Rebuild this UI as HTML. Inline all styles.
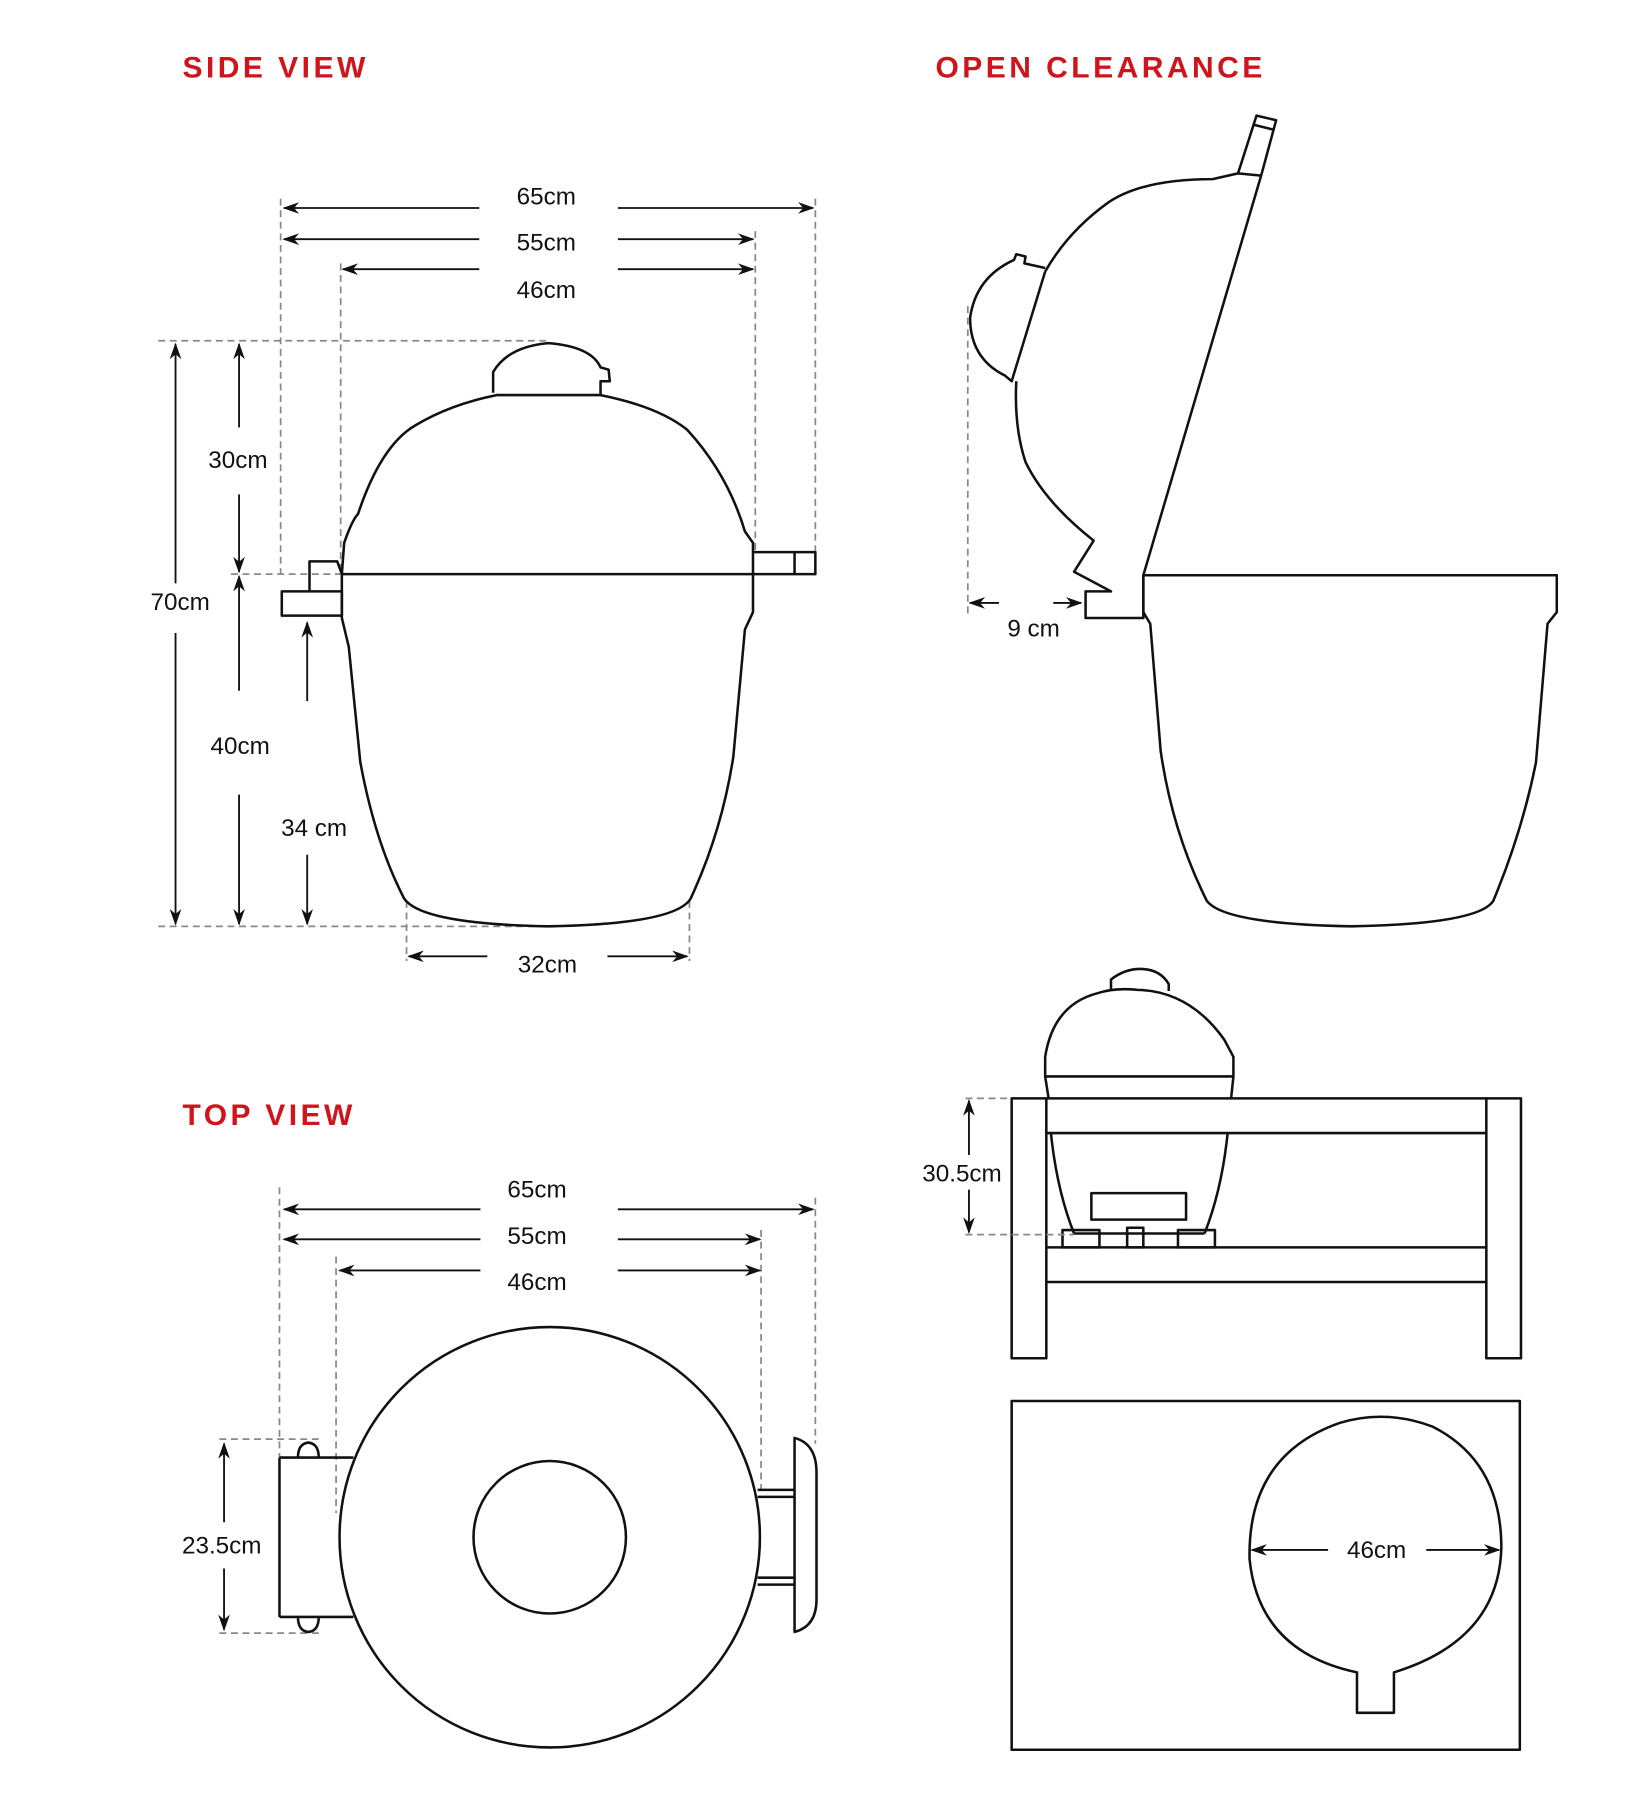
<!DOCTYPE html>
<html><head><meta charset="utf-8"><style>html,body{margin:0;padding:0;background:#fff}svg{display:block}</style></head><body>
<svg width="1633" height="1818" viewBox="0 0 1414 1574" xmlns="http://www.w3.org/2000/svg">
<defs>
<marker id="a" viewBox="0 0 10 10" refX="9" refY="5" markerWidth="9" markerHeight="9" orient="auto"><path d="M0,1.5 L10,5 L0,8.5 L3,5 z" fill="#111"/></marker>
</defs>
<style>
.t{font-family:"Liberation Sans",sans-serif;font-weight:bold;fill:#d0141c;font-size:26px;letter-spacing:3px}
.l{font-family:"Liberation Sans",sans-serif;font-size:21px;fill:#111;text-anchor:middle}
.s{fill:none;stroke:#111;stroke-width:2.2;stroke-linejoin:round}
.d{fill:none;stroke:#888;stroke-width:1.5;stroke-dasharray:6,4}
.r path{stroke:#111;stroke-width:1.6;fill:none;marker-end:url(#a)}
</style>
<text class="t" x="158" y="67">SIDE VIEW</text>
<text class="t" x="810" y="67">OPEN CLEARANCE</text>
<text class="t" x="158" y="974">TOP VIEW</text>

<!-- SIDE VIEW dims -->
<g class="d">
<path d="M243 172V497M295 228V497M654 200V478M706 172V478"/>
<path d="M137 295H475M200 497H296M137 802H475"/>
<path d="M352 780V832M597 780V832"/>
</g>
<g class="r">
<path d="M415 180H246"/><path d="M535 180H704"/>
<path d="M415 207H246"/><path d="M535 207H652"/>
<path d="M415 233H297"/><path d="M535 233H652"/>
<path d="M152 505V298"/><path d="M152 548V800"/>
<path d="M207 370V298"/><path d="M207 428V495"/>
<path d="M207 598V499"/><path d="M207 688V800"/>
<path d="M266 607V539"/><path d="M266 740V800"/>
<path d="M422 828H354"/><path d="M526 828H595"/>
</g>
<text class="l" x="473" y="177">65cm</text>
<text class="l" x="473" y="217">55cm</text>
<text class="l" x="473" y="258">46cm</text>
<text class="l" x="206" y="405">30cm</text>
<text class="l" x="156" y="528">70cm</text>
<text class="l" x="208" y="653">40cm</text>
<text class="l" x="272" y="724">34 cm</text>
<text class="l" x="474" y="842">32cm</text>

<!-- side grill -->
<g class="s">
<path d="M296 497 L298 470 Q305 450 310 445 Q330 385 360 368 Q390 350 430 342 L520 342 Q570 352 595 372 Q630 410 645 460 L652 470 L652 497 Z"/>
<path d="M427 340 L427 322 Q440 300 475 297 Q512 300 520 318 L527 320 L528 330 L520 330 L520 342"/>
<path d="M296 497 L296 535 L302 560 L312 660 Q325 730 350 778 Q365 800 475 802 Q585 800 598 778 Q625 720 635 655 L645 545 L652 530 L652 497"/>
<path d="M652 478H706V497H652M688 478V497"/>
<path d="M244 512H296V533H244ZM268 512V486H292L296 497"/>
</g>

<!-- OPEN CLEARANCE -->
<g class="s">
<path d="M990 498 H1348 V530 L1340 540 L1330 660 Q1318 720 1293 780 Q1280 800 1170 802 Q1060 800 1045 780 Q1015 720 1005 650 L996 540 L990 530 Z"/>
<path d="M990 498 V535 H940 V512 H962 L930 495 L947 468 Q905 435 888 400 Q878 370 880 330"/>
<path d="M990 498 L1092 152 L1072 150 L1050 155 Q990 155 960 175 Q925 200 905 235"/>
<path d="M1072 150 L1088 100 L1105 104 L1092 152"/>
<path d="M1086 108 L1102 112"/>
<path d="M905 235 L876 330 L870 325 Q840 310 840 275 Q845 240 878 225 L880 220 L888 222 L887 228 L905 232"/>
</g>
<path class="d" d="M838 265V535"/>
<g class="r"><path d="M865 522H840"/><path d="M912 522H936"/></g>
<text class="l" x="895" y="551">9 cm</text>

<!-- stand -->
<g class="s">
<path d="M905 932 V915 Q912 870 950 860 Q965 855 985 857 Q1030 858 1060 900 L1068 915 V932 Z"/>
<path d="M905 932 L908 951 M1068 932 L1066 951"/>
<path d="M962 858 V848 Q975 838 990 839 Q1005 840 1012 852 V858"/>
<path d="M876 951H906V1176H876Z M1287 951H1317V1176H1287Z M906 951H1287V981H906Z M906 1080H1287V1110H906Z"/>
<path d="M910 981 Q915 1030 930 1068 M1063 981 Q1058 1030 1043 1068"/>
<path d="M945 1033H1027V1056H945Z"/>
<path d="M920 1065H952V1080H920Z M1020 1065H1052V1080H1020Z M976 1063H990V1080H976Z M930 1068H1043"/>
</g>
<path class="d" d="M836 951H876M836 1069H930"/>
<g class="r"><path d="M839 1000V953"/><path d="M839 1030V1067"/></g>
<text class="l" x="833" y="1023">30.5cm</text>

<g class="s">
<rect x="876" y="1213" width="440" height="302"/>
<path d="M1175 1448 Q1090 1430 1082 1350 Q1080 1260 1160 1232 Q1200 1220 1240 1235 Q1300 1265 1300 1340 Q1298 1420 1207 1448 V1483 H1175 Z"/>
</g>
<g class="r"><path d="M1150 1342H1084"/><path d="M1235 1342H1298"/></g>
<text class="l" x="1192" y="1349">46cm</text>

<!-- TOP VIEW -->
<g class="d">
<path d="M242 1028V1262M291 1088V1310M659 1065V1290M706 1037V1250"/>
<path d="M190 1246H280M190 1414H280"/>
</g>
<g class="r">
<path d="M416 1047H246"/><path d="M535 1047H704"/>
<path d="M416 1073H246"/><path d="M535 1073H658"/>
<path d="M416 1100H294"/><path d="M535 1100H658"/>
<path d="M194 1318V1250"/><path d="M194 1358V1411"/>
</g>
<text class="l" x="465" y="1037">65cm</text>
<text class="l" x="465" y="1077">55cm</text>
<text class="l" x="465" y="1117">46cm</text>
<text class="l" x="192" y="1345">23.5cm</text>
<g class="s">
<path d="M242 1262H306M242 1400H306M242 1262V1400"/>
<path d="M258 1262 Q258 1250 267 1249 Q276 1250 276 1262 M258 1400 Q258 1412 267 1413 Q276 1412 276 1400"/>
<circle cx="476" cy="1331" r="182"/>
<circle cx="476" cy="1331" r="66"/>
<path d="M656 1290H688M656 1296H688M656 1366H688M656 1372H688"/>
<path d="M688 1245 Q707 1250 707 1275 V1385 Q707 1408 688 1413 Z"/>
</g>
</svg>
</body></html>
